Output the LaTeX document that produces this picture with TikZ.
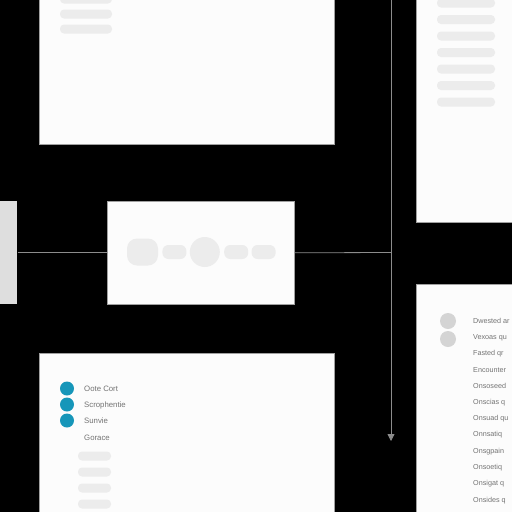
\documentclass[tikz,border=0pt]{standalone}
\usepackage{fontspec}
\setmainfont{Liberation Sans}
\definecolor{PanelColor}{RGB}{252,252,252}
\definecolor{EdgeColor}{RGB}{160,160,160}
\definecolor{BarColor}{RGB}{236,236,236}
\definecolor{StubColor}{RGB}{222,222,222}
\definecolor{FlowColor}{RGB}{140,140,140}
\definecolor{TealColor}{RGB}{22,150,185}
\definecolor{DotColor}{RGB}{212,212,212}
\definecolor{TextColor}{RGB}{115,115,115}
\usetikzlibrary{positioning, arrows.meta}
\tikzstyle{panel} = [rectangle, draw=EdgeColor, line width=0.6pt, fill=PanelColor, inner sep=0pt, anchor=north west]
\tikzstyle{bar} = [rectangle, rounded corners=4pt, fill=BarColor, inner sep=0pt, minimum height=9pt]
\tikzstyle{pill} = [rectangle, rounded corners=6pt, fill=BarColor, inner sep=0pt, minimum width=24pt, minimum height=14pt]
\tikzstyle{flow} = [line width=0.8pt, FlowColor]
\tikzstyle{flowarrow} = [flow, -{Triangle[width=7pt,length=7pt]}]
\tikzstyle{bullet} = [circle, fill=TealColor, inner sep=0pt, minimum size=14pt]
\tikzstyle{greydot} = [circle, fill=DotColor, inner sep=0pt, minimum size=16pt]
\tikzstyle{itemtext} = [anchor=west, inner sep=0pt, font=\fontsize{7.8}{9}\selectfont, text=TextColor]
\tikzstyle{notetext} = [itemtext, font=\fontsize{7.2}{8}\selectfont]

\begin{document}
\begin{tikzpicture}[x=1pt, y=-1pt]
            \useasboundingbox[fill=black] (0,0) rectangle (512,512);
            \clip (0,0) rectangle (512,512);

            % Top panels
            \node[panel, minimum width=295pt, minimum height=154pt] (toppanel) at (39,-10) {};
            \foreach \y in {-1,14,29}
                \node[bar, minimum width=52pt] at (86,\y) {};
            \node[panel, minimum width=110pt, minimum height=232pt] (sidepanel) at (416,-10) {};
            \foreach \i in {0,...,6}
                \node[bar, minimum width=58pt] at (466,3+16.5*\i) {};

            % Middle row
            \node[panel, draw=none, fill=StubColor, minimum width=27pt, minimum height=103pt] (stub) at (-10,201) {};
            \node[panel, minimum width=187pt, minimum height=103pt] (midpanel) at (107,201) {};
            \node[pill, rounded corners=10pt, minimum width=31pt, minimum height=27pt] (pillA) at (142.5,252) {};
            \node[pill, right=4pt of pillA] (pillB) {};
            \node[circle, fill=BarColor, inner sep=0pt, minimum size=30pt, right=3pt of pillB] (hub) {};
            \node[pill, right=4pt of hub] (pillD) {};
            \node[pill, right=3pt of pillD] (pillE) {};

            % Connectors
            \coordinate (join) at (391,252.5);
            \coordinate (flowtop) at (391,-5);
            \coordinate (flowend) at (391,441);
            \draw[flow] (stub.east) -- (midpanel.west);
            \draw[flow] (midpanel.east) -- (join);
            \draw[flowarrow] (flowtop) -- (flowend);

            % Bottom panels
            \node[panel, minimum width=295pt, minimum height=170pt] (listpanel) at (39,353) {};
            \foreach \y/\txt [count=\n] in {389/Oote Cort, 405/Scrophentie, 421/Sunvie} {
                \node[bullet] (dot\n) at (67,\y-0.5) {};
                \node[itemtext] (item\n) at (84,\y) {\txt};
            }
            \node[itemtext] (item4) at (84,438) {Gorace};
            \foreach \y in {456,472,488,504}
                \node[bar, minimum width=33pt] at (94.5,\y) {};

            \node[panel, minimum width=110pt, minimum height=240pt] (notepanel) at (416,284) {};
            \node[greydot] (grey1) at (448,321) {};
            \node[greydot] (grey2) at (448,339) {};
            \foreach \txt [count=\n from 0] in {Dwested ar, Vexoas qu, Fasted qr, Encounter, Onsoseed, Onscias q, Onsuad qu, Onnsatiq, Onsgpain, Onsoetiq, Onsigat q, Onsides q}
                \node[notetext] (note\n) at (473,321+16.3*\n) {\txt};
        \end{tikzpicture}
\end{document}
